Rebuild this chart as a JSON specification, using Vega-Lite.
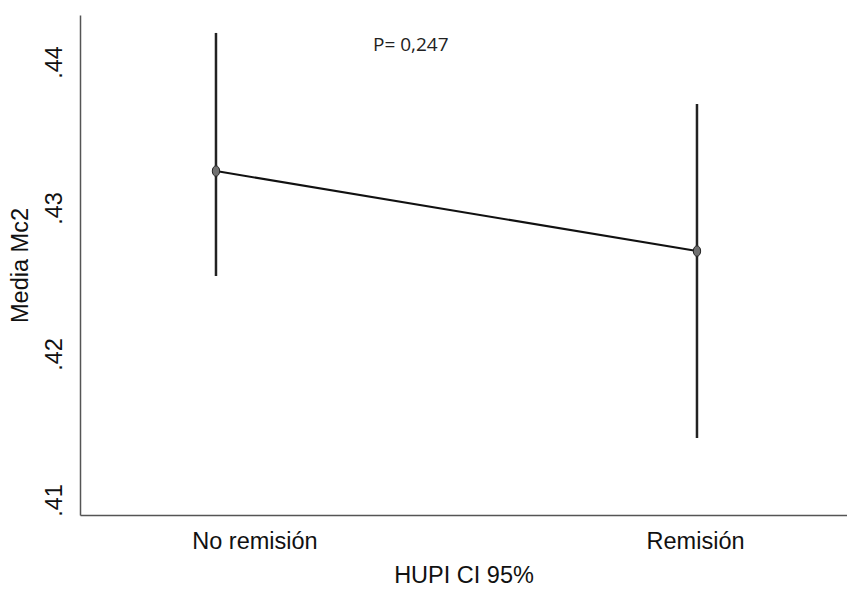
{
  "$schema": "https://vega.github.io/schema/vega-lite/v6.json",
  "width": 767,
  "height": 500,
  "padding": {"left": 8, "top": 15, "right": 0, "bottom": 0},
  "background": "white",
  "config": {
    "view": {"stroke": null},
    "font": "Liberation Sans"
  },
  "datasets": {
    "stats": [
      {"grupo": "No remisión", "idx": 1, "media": 0.43253, "li": 0.42534, "ls": 0.44199},
      {"grupo": "Remisión", "idx": 2, "media": 0.42705, "li": 0.41425, "ls": 0.43712}
    ],
    "nota": [
      {"idx": 1.405, "media": 0.44116, "texto": "P= 0,247"}
    ]
  },
  "encoding": {
    "x": {
      "field": "idx",
      "type": "quantitative",
      "scale": {"domain": [0.7173, 2.3119], "nice": false, "zero": false},
      "axis": {
        "title": "HUPI CI 95%",
        "values": [1.08, 1.996],
        "labelExpr": "datum.value < 1.5 ? 'No remisión' : 'Remisión'",
        "grid": false,
        "ticks": false,
        "tickSize": 0,
        "domainColor": "#555555",
        "domainWidth": 1.5,
        "labelFontSize": 23.5,
        "labelColor": "#111111",
        "labelPadding": 14,
        "labelFlush": false,
        "labelOverlap": false,
        "titleFontSize": 23.5,
        "titleFontWeight": "normal",
        "titleColor": "#111111",
        "titlePadding": 11
      }
    },
    "y": {
      "field": "media",
      "type": "quantitative",
      "scale": {"domain": [0.40897, 0.44322], "nice": false, "zero": false},
      "axis": {
        "title": "Media Mc2",
        "values": [0.41, 0.42, 0.43, 0.44],
        "labelExpr": "replace(format(datum.value, '.2f'), '0.', '.')",
        "grid": false,
        "ticks": false,
        "tickSize": 0,
        "domainColor": "#555555",
        "domainWidth": 1.5,
        "labelAngle": -90,
        "labelFontSize": 23.5,
        "labelColor": "#111111",
        "labelPadding": 14,
        "labelFlush": false,
        "labelOverlap": false,
        "titleFontSize": 23.5,
        "titleFontWeight": "normal",
        "titleColor": "#111111",
        "titlePadding": 10
      }
    }
  },
  "layer": [
    {
      "data": {"name": "stats"},
      "mark": {"type": "rule", "color": "#222222", "strokeWidth": 2.5},
      "encoding": {"y": {"field": "li", "type": "quantitative"}, "y2": {"field": "ls"}}
    },
    {
      "data": {"name": "stats"},
      "mark": {"type": "line", "color": "#111111", "strokeWidth": 2},
      "encoding": {}
    },
    {
      "data": {"name": "stats"},
      "mark": {"type": "point", "shape": "M-0.7,0A0.7,1,0,1,0,0.7,0A0.7,1,0,1,0,-0.7,0Z", "size": 110, "filled": true, "fill": "#707070", "stroke": "#222222", "strokeWidth": 1, "opacity": 1},
      "encoding": {}
    },
    {
      "data": {"name": "nota"},
      "mark": {"type": "text", "font": "Open Sans", "fontSize": 19, "color": "#222222", "align": "center", "baseline": "middle"},
      "encoding": {"text": {"field": "texto"}}
    }
  ]
}
